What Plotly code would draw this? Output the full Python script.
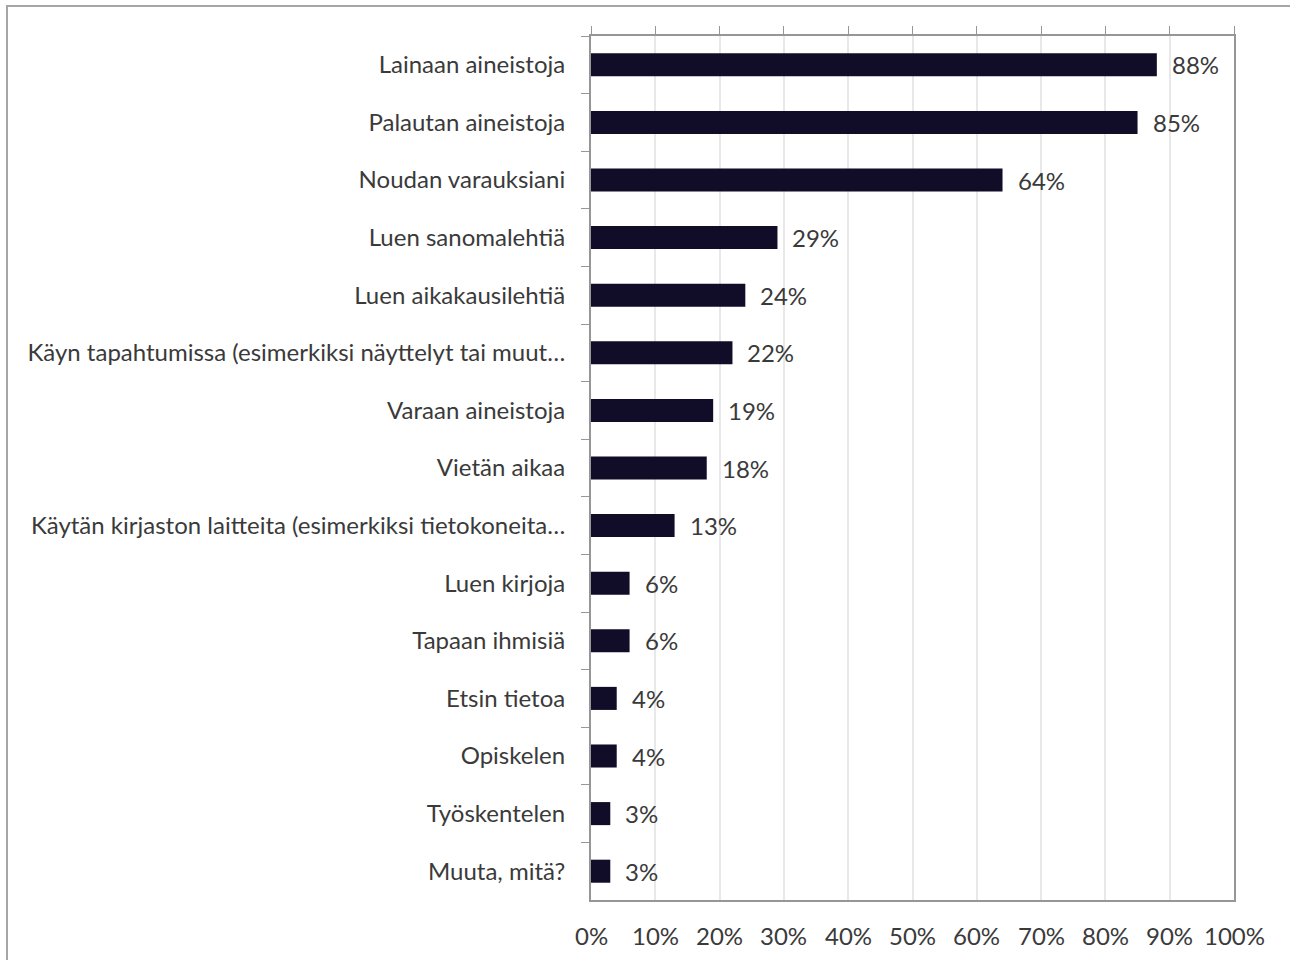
import plotly.graph_objects as go

# Survey: what respondents do at the library
activities = [
    "Lainaan aineistoja",
    "Palautan aineistoja",
    "Noudan varauksiani",
    "Luen sanomalehtiä",
    "Luen aikakausilehtiä",
    "Käyn tapahtumissa (esimerkiksi näyttelyt tai muut…",
    "Varaan aineistoja",
    "Vietän aikaa",
    "Käytän kirjaston laitteita (esimerkiksi tietokoneita…",
    "Luen kirjoja",
    "Tapaan ihmisiä",
    "Etsin tietoa",
    "Opiskelen",
    "Työskentelen",
    "Muuta, mitä?",
]
shares = [0.88, 0.85, 0.64, 0.29, 0.24, 0.22, 0.19, 0.18, 0.13, 0.06, 0.06, 0.04, 0.04, 0.03, 0.03]
x_ticks = [i / 10 for i in range(11)]
x_tick_labels = [f"{int(round(t * 100))}%" for t in x_ticks]

FONT = "Lato"
FS = 24
TEXT = "#3a3a3a"
AXIS = "#969696"
GRID = "#e8e8e8"
BAR = "#110d28"

W, H = 1290, 960
ML, MR, MT, MB = 591, 56, 36, 60
pw, ph = W - ML - MR, H - MT - MB

fig = go.Figure()
fig.add_trace(go.Bar(
    x=shares, y=activities, orientation="h",
    marker=dict(color=BAR, line=dict(width=0)),
    hoverinfo="skip", showlegend=False,
))

# value labels beside each bar
for a, v in zip(activities, shares):
    fig.add_annotation(
        x=v, y=a, xref="x", yref="y", text=f"{int(round(v * 100))}%",
        showarrow=False, xanchor="left", xshift=13,
        font=dict(family=FONT, size=FS, color=TEXT),
    )

# percentage scale labels under the plot (ticks themselves sit on top)
for t, lab in zip(x_ticks, x_tick_labels):
    fig.add_annotation(
        x=t, y=0, xref="x", yref="paper", text=lab,
        showarrow=False, xanchor="center", yanchor="middle", yshift=-35,
        font=dict(family=FONT, size=FS, color=TEXT),
    )

# outer frame
fig.add_shape(
    type="rect", xref="paper", yref="paper",
    x0=(7 - ML) / pw, x1=1.2, y0=-0.2, y1=1 + (MT - 6) / ph,
    line=dict(color="#a6a6a6", width=2), fillcolor="rgba(0,0,0,0)", layer="below",
)

fig.update_layout(
    width=W, height=H,
    margin=dict(l=ML, r=MR, t=MT, b=MB, pad=0),
    paper_bgcolor="white", plot_bgcolor="white",
    bargap=0.6,
    font=dict(family=FONT, size=FS, color=TEXT),
    xaxis=dict(
        range=[0, 1], tickvals=x_ticks, side="top",
        showgrid=True, gridcolor=GRID, gridwidth=2,
        zeroline=False, showline=True, linecolor=AXIS, linewidth=2,
        mirror=True, ticks="outside", ticklen=8, tickwidth=1, tickcolor=AXIS,
        showticklabels=False, fixedrange=True,
    ),
    yaxis=dict(
        autorange="reversed", showline=True, linecolor=AXIS, linewidth=2,
        mirror=True, ticks="outside", tickson="boundaries", ticklen=8,
        tickwidth=1, tickcolor=AXIS, showgrid=False, ticklabelstandoff=19,
        tickfont=dict(family=FONT, size=FS, color=TEXT),
        fixedrange=True,
    ),
)

fig.write_html("out.html")
